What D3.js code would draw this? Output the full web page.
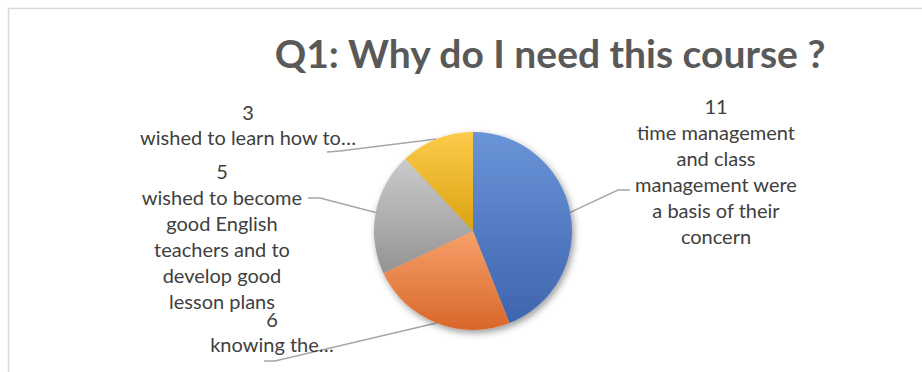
<!DOCTYPE html>
<html>
<head>
<meta charset="utf-8">
<script src="https://cdn.jsdelivr.net/npm/d3@7"></script>
<style>
  body { margin: 0; background: #fff; }
  svg { display: block; }
</style>
</head>
<body>
<svg id="chart" width="922" height="372"></svg>
<script>
// data
var counts = [11, 6, 5, 3];
var labels = [
    ["time management", "and class", "management were", "a basis of their", "concern"],
    ["knowing the…"],
    ["wished to become", "good English", "teachers and to", "develop good", "lesson plans"],
    ["wished to learn how to…"]
];
var topColors = ["#6a94d8", "#f7a06a", "#cbcbcb", "#fdcb4a"];
var bottomColors = ["#3e65ae", "#d8672a", "#939393", "#daa312"];

var svg = d3.select("#chart");
var cx = 473, cy = 231, r = 99;

// frame of the chart area
svg.append("rect")
    .attr("x", 8.5).attr("y", 8.5)
    .attr("width", 940).attr("height", 400)
    .attr("fill", "#fff")
    .attr("stroke", "#d9d9d9")
    .attr("stroke-width", 1.5);

var defs = svg.append("defs");
counts.forEach(function (c, i) {
    var g = defs.append("linearGradient")
        .attr("id", "grad" + i)
        .attr("x1", 0).attr("y1", 0).attr("x2", 0).attr("y2", 1);
    g.append("stop").attr("offset", "0%").attr("stop-color", topColors[i]);
    g.append("stop").attr("offset", "100%").attr("stop-color", bottomColors[i]);
});
var shadow = defs.append("filter").attr("id", "shadow")
    .attr("x", "-20%").attr("y", "-20%").attr("width", "140%").attr("height", "140%");
shadow.append("feDropShadow")
    .attr("dx", 2).attr("dy", 3)
    .attr("stdDeviation", 3.5)
    .attr("flood-color", "#000")
    .attr("flood-opacity", 0.4);

// title
svg.append("text")
    .attr("x", 550).attr("y", 68)
    .attr("text-anchor", "middle")
    .style("font-family", "Lato, 'Open Sans', sans-serif")
    .style("font-weight", "bold")
    .style("font-size", "39px")
    .attr("fill", "#595959")
    .text("Q1: Why do I need this course ?");

var pie = d3.pie().sort(null).value(function (d) { return d; });
var arcs = pie(counts);
var arc = d3.arc().innerRadius(0).outerRadius(r);
var edge = d3.arc().innerRadius(r).outerRadius(r);

// leader lines (bend and end points of each label)
var leaders = [
    [[618, 190], [630, 190]],
    [[275, 361], [264, 361]],
    [[320, 198], [308, 198]],
    [[340, 151], [327, 152]]
];
var line = d3.line();
svg.append("g").selectAll("path")
    .data(arcs)
    .enter()
    .append("path")
    .attr("d", function (d, i) {
        var p = edge.centroid(d);
        return line([[cx + p[0], cy + p[1]]].concat(leaders[i]));
    })
    .attr("fill", "none")
    .attr("stroke", "#a6a6a6")
    .attr("stroke-width", 1.4);

var pieG = svg.append("g")
    .attr("transform", "translate(" + cx + "," + cy + ")")
    .attr("filter", "url(#shadow)");
pieG.selectAll("path")
    .data(arcs)
    .enter()
    .append("path")
    .attr("d", arc)
    .attr("fill", function (d, i) { return "url(#grad" + i + ")"; });

// data labels: value then category text
var labelPos = [
    { x: 716, y: 107, step: 26 },
    { x: 272, y: 320, step: 25 },
    { x: 222, y: 172, step: 26 },
    { x: 248, y: 113, step: 25 }
];
arcs.forEach(function (d, i) {
    var lp = labelPos[i];
    var t = svg.append("text")
        .attr("text-anchor", "middle")
        .style("font-family", "Lato, 'Open Sans', sans-serif")
        .style("font-size", "20px")
        .attr("fill", "#404040");
    [String(d.data)].concat(labels[i]).forEach(function (s, k) {
        t.append("tspan")
            .attr("x", lp.x)
            .attr("y", lp.y + k * lp.step + 7)
            .text(s);
    });
});
</script>
</body>
</html>
